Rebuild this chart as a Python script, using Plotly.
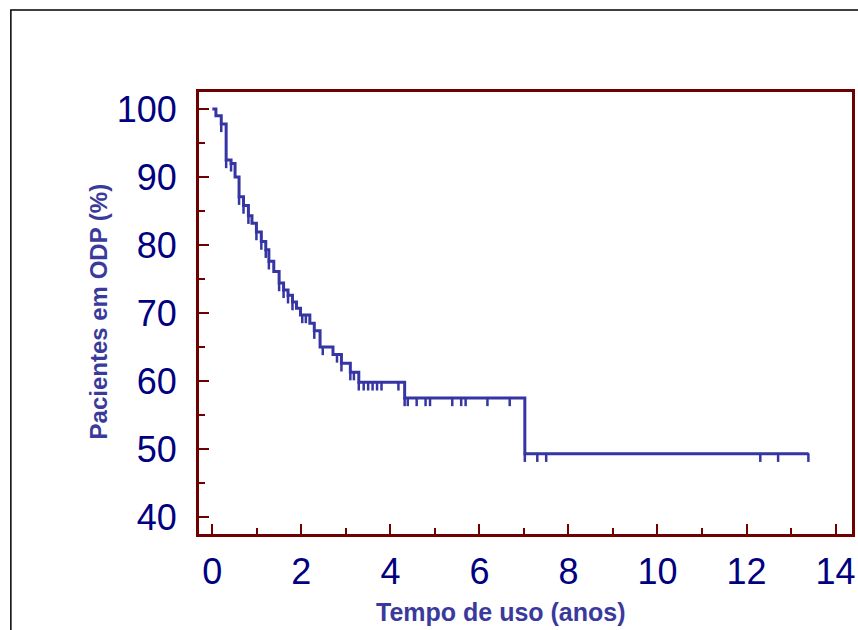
import numpy as np
import plotly.graph_objects as go

# Kaplan-Meier step data (time in years, % of patients)
times = [0, 0.08, 0.20, 0.31, 0.42, 0.51, 0.60, 0.70, 0.81, 0.89, 0.99, 1.10, 1.20,
         1.27, 1.38, 1.50, 1.60, 1.70, 1.80, 1.89, 1.98, 2.19, 2.29, 2.42, 2.71,
         2.90, 3.10, 3.29, 4.32, 7.02, 13.39]
surv = [100, 99.0, 97.8, 92.5, 92.0, 90.0, 87.1, 85.8, 84.3, 83.2, 81.9, 80.5, 79.3,
        77.6, 76.1, 74.4, 73.4, 72.6, 71.6, 70.7, 69.7, 68.5, 67.4, 65.0, 63.9,
        62.6, 61.3, 59.8, 57.5, 49.3, 49.3]

# censored observations (time in years)
censor_times = [0.20, 0.31, 0.42, 0.60, 0.70, 0.81, 0.99, 1.10, 1.20, 1.27, 1.50, 1.60,
                1.70, 1.80, 2.02, 2.10, 2.29, 2.48, 2.80, 2.90, 3.10, 3.18, 3.29, 3.40,
                3.50, 3.60, 3.70, 3.80, 4.18, 4.32, 4.39, 4.59, 4.79, 4.89, 5.39, 5.59,
                5.69, 6.18, 6.68, 7.02, 7.30, 7.50, 12.31, 12.71, 13.39]

x_ticks = [0, 2, 4, 6, 8, 10, 12, 14]
y_ticks = [40, 50, 60, 70, 80, 90, 100]

t_arr = np.array(times)
s_arr = np.array(surv)
c_arr = np.array(censor_times)
c_level = s_arr[np.searchsorted(t_arr, c_arr, side="right") - 1]

LINE = "#3535a3"
FRAME = "#6e0000"
TICKFONT = "#000080"
TITLE = "#3a3a9c"
TICKLEN_DATA = 1.2

fig = go.Figure()
fig.add_trace(go.Scatter(x=times, y=surv, mode="lines", line_shape="hv",
                         line=dict(color=LINE, width=3), hoverinfo="skip", showlegend=False))
fig.add_trace(go.Scatter(x=c_arr, y=c_level, mode="markers",
                         marker=dict(size=2, color=LINE),
                         error_y=dict(type="data", symmetric=False,
                                      array=[0] * len(c_arr),
                                      arrayminus=[TICKLEN_DATA] * len(c_arr),
                                      width=0, thickness=2.5, color=LINE),
                         showlegend=False, hoverinfo="skip"))

W, H = 858, 630
L, R, T, B = 199, 3, 92, 96
pw, ph = W - L - R, H - T - B

fig.update_layout(
    width=W, height=H,
    margin=dict(l=L, r=R, t=T, b=B),
    paper_bgcolor="white", plot_bgcolor="white",
    font=dict(family="Liberation Sans, Arial, sans-serif"),
    xaxis=dict(range=[-0.30, 14.37], tickvals=x_ticks, ticktext=[str(v) for v in x_ticks],
               showgrid=False, zeroline=False, showline=True, linecolor=FRAME, linewidth=3,
               mirror=True, ticks="inside", ticklen=10, tickwidth=2, tickcolor=FRAME,
               minor=dict(dtick=1, tick0=0, ticks="inside", ticklen=6, tickwidth=2, tickcolor=FRAME),
               tickfont=dict(size=36, color=TICKFONT), ticklabelstandoff=4),
    yaxis=dict(range=[37.5, 102.5], tickvals=y_ticks, ticktext=[str(v) for v in y_ticks],
               showgrid=False, zeroline=False, showline=True, linecolor=FRAME, linewidth=3,
               mirror=True, ticks="inside", ticklen=10, tickwidth=2, tickcolor=FRAME,
               minor=dict(dtick=5, tick0=0, ticks="inside", ticklen=6, tickwidth=2, tickcolor=FRAME),
               tickfont=dict(size=36, color=TICKFONT), ticklabelstandoff=12),
    annotations=[
        dict(text="Tempo de uso (anos)", xref="paper", yref="paper",
             x=(502 - L) / pw, y=-(612 - (T + ph)) / ph, xanchor="center", yanchor="middle",
             showarrow=False, font=dict(size=25, color=TITLE, weight="bold")),
        dict(text="Pacientes em ODP (%)", xref="paper", yref="paper",
             x=(98 - L) / pw, y=1 - (311 - T) / ph, xanchor="center", yanchor="middle",
             textangle=-90, showarrow=False, font=dict(size=24, color=TITLE, weight="bold")),
    ],
    shapes=[dict(type="rect", xref="paper", yref="paper",
                 x0=(10 - L) / pw, x1=(W + 20 - L) / pw,
                 y0=-(H + 20 - T - ph) / ph, y1=1 + (T - 10) / ph,
                 line=dict(color="black", width=1.5), layer="below")],
)

fig.write_html("out.html")
